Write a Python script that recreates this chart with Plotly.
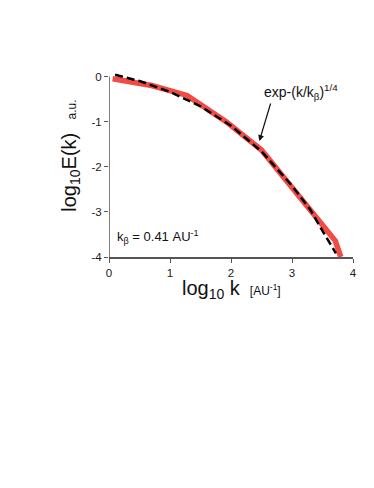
import plotly.graph_objects as go

# Measured (red) spectrum, log10 k vs log10 E(k)
meas_x = [0.06, 0.7, 1.28, 1.92, 2.5, 3.0, 3.5, 3.71, 3.8]
meas_y = [-0.05, -0.2, -0.42, -1.0, -1.63, -2.45, -3.3, -3.64, -4.0]

# Fit (black dashed) exp-(k/k_beta)^(1/4)
fit_x = [0.1, 0.5, 1.0, 1.5, 2.0, 2.5, 3.0, 3.3, 3.5, 3.72]
fit_y = [0.04, -0.1, -0.34, -0.66, -1.09, -1.66, -2.42, -2.95, -3.42, -3.92]

x_ticks = [0, 1, 2, 3, 4]
y_ticks = [0, -1, -2, -3, -4]

FONT = "Liberation Sans, Arial, Helvetica, sans-serif"
AX = "#555555"

fig = go.Figure()
fig.add_trace(go.Scatter(x=meas_x, y=meas_y, mode="lines",
                         line=dict(color="#f24a45", width=5.5), hoverinfo="skip"))
fig.add_trace(go.Scatter(x=fit_x, y=fit_y, mode="lines",
                         line=dict(color="black", width=2.5, dash="8px,4px"), hoverinfo="skip"))

fig.add_shape(type="line", x0=0, x1=0, y0=-4, y1=0, xref="x", yref="y",
              line=dict(color=AX, width=1.5))

# page has an 8px body margin, so the figure is drawn at (8, 8)
fig.update_layout(
    width=358, height=472,
    margin=dict(l=101, r=9, t=63.5, b=223),
    paper_bgcolor="white", plot_bgcolor="white",
    showlegend=False,
    font=dict(family=FONT, color="#222222", size=11),
    xaxis=dict(range=[0, 4], tickvals=x_ticks, ticktext=[str(v) for v in x_ticks],
               showgrid=False, zeroline=False, showline=True, linecolor=AX, linewidth=1.5,
               ticks="outside", ticklen=4, tickcolor=AX, tickwidth=1.2,
               tickfont=dict(size=11.5, family=FONT, color="#1a1a1a")),
    yaxis=dict(range=[-4, 0.1], tickvals=y_ticks, ticktext=[str(v) for v in y_ticks],
               showgrid=False, zeroline=False, showline=False,
               ticks="outside", ticklen=4, tickcolor=AX, tickwidth=1.2,
               tickfont=dict(size=11.5, family=FONT, color="#1a1a1a")),
)

# Axis titles
fig.add_annotation(xref="paper", yref="paper", x=-0.158, y=0.55, xanchor="center", yanchor="middle",
                   textangle=-90, showarrow=False,
                   text="<span style='font-size:20px'>log<sub>10</sub>E(k)</span>"
                        "<span style='font-size:12px'>    a.u.</span>",
                   font=dict(family=FONT, color="#111", size=20))
fig.add_annotation(xref="paper", yref="paper", x=0.5, y=-0.095, xanchor="center", yanchor="top",
                   showarrow=False,
                   text="<span style='font-size:20px'>log<sub>10</sub> k</span>"
                        "<span style='font-size:12px'>   [AU<sup>-1</sup>]</span>",
                   font=dict(family=FONT, color="#111", size=20))

# Labels
fig.add_annotation(x=3.15, y=-0.35, xref="x", yref="y", showarrow=False,
                   text="exp-(k/k<sub>β</sub>)<sup>1/4</sup>",
                   font=dict(family=FONT, size=14, color="#111"))
fig.add_annotation(x=2.465, y=-1.43, xref="x", yref="y", text="", showarrow=True,
                   ax=11.7, ay=-39, arrowhead=2, arrowsize=1, arrowwidth=1.2, arrowcolor="#111")
fig.add_annotation(x=0.1, y=-3.55, xref="x", yref="y", xanchor="left", showarrow=False,
                   text="k<sub>β</sub> = 0.41 AU<sup>-1</sup>",
                   font=dict(family=FONT, size=13, color="#111"))

fig.write_html("out.html")
